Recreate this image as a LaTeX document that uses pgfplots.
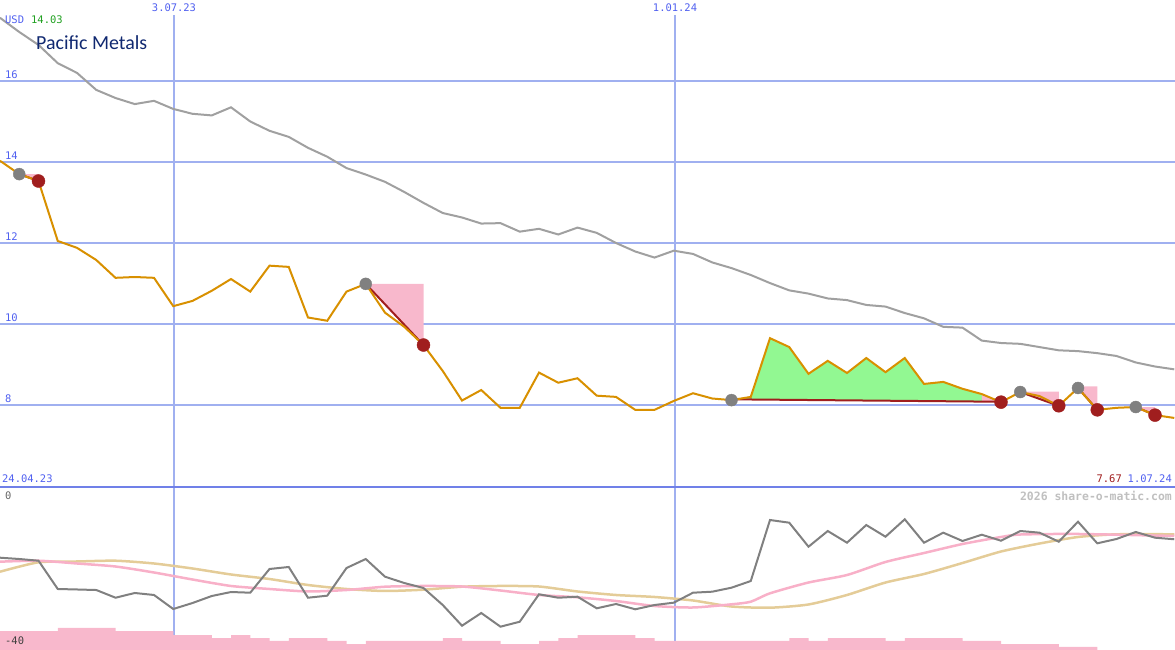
\documentclass[border=0pt]{standalone}
\usepackage{pgfplots}
\pgfplotsset{compat=1.18}
\usepackage{fontspec}
\setmainfont{DejaVu Sans Mono}
\newfontfamily\monofont{DejaVu Sans Mono}
\newfontfamily\titlefont{Carlito}
\definecolor{gridblue}{RGB}{160,176,240}
\definecolor{gridthin}{RGB}{168,178,224}
\definecolor{boundblue}{RGB}{112,128,232}
\definecolor{textblue}{RGB}{80,96,240}
\definecolor{priceorange}{RGB}{216,144,0}
\definecolor{longgray}{RGB}{160,160,160}
\definecolor{dotgray}{RGB}{128,128,128}
\definecolor{darkred}{RGB}{160,30,30}
\definecolor{pinkfill}{RGB}{248,184,204}
\definecolor{greenfill}{RGB}{146,248,146}
\definecolor{oscgray}{RGB}{128,128,128}
\definecolor{lowpink}{RGB}{248,176,200}
\definecolor{lowtan}{RGB}{228,204,152}
\definecolor{navy}{RGB}{16,40,112}
\definecolor{textgreen}{RGB}{32,160,32}
\definecolor{wmgray}{RGB}{192,192,192}

\pgfplotstableread{
i price
0 14.03
1 13.70
2 13.53
3 12.05
4 11.88
5 11.58
6 11.14
7 11.16
8 11.14
9 10.44
10 10.57
11 10.82
12 11.11
13 10.80
14 11.44
15 11.41
16 10.16
17 10.08
18 10.80
19 10.99
20 10.28
21 9.93
22 9.48
23 8.84
24 8.11
25 8.37
26 7.93
27 7.93
28 8.80
29 8.55
30 8.66
31 8.23
32 8.20
33 7.88
34 7.88
35 8.10
36 8.29
37 8.16
38 8.12
39 8.20
40 9.65
41 9.43
42 8.77
43 9.09
44 8.79
45 9.16
46 8.81
47 9.16
48 8.52
49 8.57
50 8.40
51 8.27
52 8.07
53 8.32
54 8.22
55 7.98
56 8.42
57 7.88
58 7.93
59 7.95
60 7.75
61 7.68
}\pricetab

\pgfplotstableread{
i ma
0 17.56
1 17.21
2 16.89
3 16.44
4 16.20
5 15.78
6 15.58
7 15.43
8 15.51
9 15.31
10 15.19
11 15.15
12 15.35
13 15.00
14 14.77
15 14.62
16 14.35
17 14.13
18 13.85
19 13.69
20 13.51
21 13.26
22 12.99
23 12.74
24 12.63
25 12.48
26 12.49
27 12.28
28 12.35
29 12.21
30 12.38
31 12.25
32 12.00
33 11.79
34 11.64
35 11.81
36 11.73
37 11.52
38 11.38
39 11.21
40 11.01
41 10.83
42 10.75
43 10.63
44 10.59
45 10.47
46 10.43
47 10.27
48 10.14
49 9.93
50 9.91
51 9.59
52 9.53
53 9.51
54 9.43
55 9.35
56 9.33
57 9.28
58 9.21
59 9.05
60 8.95
61 8.88
}\matab

\pgfplotstableread{
i osc
0 -17.35
1 -17.67
2 -18.09
3 -25.03
4 -25.15
5 -25.28
6 -27.17
7 -26.01
8 -26.50
9 -29.94
10 -28.47
11 -26.75
12 -25.77
13 -25.94
14 -20.12
15 -19.63
16 -27.17
17 -26.67
18 -19.88
19 -17.67
20 -22.01
21 -23.56
22 -24.79
23 -28.96
24 -34.04
25 -30.92
26 -34.28
27 -33.06
28 -26.33
29 -27.17
30 -26.92
31 -29.77
32 -28.71
33 -30.01
34 -28.96
35 -28.39
36 -25.94
37 -25.69
38 -24.71
39 -23.07
40 -8.10
41 -8.76
42 -14.65
43 -10.80
44 -13.67
45 -9.33
46 -12.20
47 -7.93
48 -13.67
49 -11.21
50 -13.25
51 -11.71
52 -13.18
53 -10.80
54 -11.21
55 -13.42
56 -8.52
57 -13.82
58 -12.76
59 -11.04
60 -12.44
61 -12.83
}\osctab

\pgfplotstableread{
i bar
0 -35.34
1 -35.34
2 -35.34
3 -34.60
4 -34.60
5 -34.60
6 -35.34
7 -35.34
8 -35.34
9 -36.32
10 -36.32
11 -37.06
12 -36.32
13 -37.06
14 -37.79
15 -37.06
16 -37.06
17 -37.79
18 -38.53
19 -37.79
20 -37.79
21 -37.79
22 -37.79
23 -37.06
24 -37.79
25 -37.79
26 -38.53
27 -38.53
28 -37.79
29 -37.06
30 -36.32
31 -36.32
32 -36.32
33 -37.06
34 -37.79
35 -37.79
36 -37.79
37 -37.79
38 -37.79
39 -37.79
40 -37.79
41 -37.06
42 -37.79
43 -37.06
44 -37.06
45 -37.06
46 -37.79
47 -37.06
48 -37.06
49 -37.06
50 -37.79
51 -37.79
52 -38.53
53 -38.53
54 -38.53
55 -39.26
56 -39.26
57 -40
58 -40
59 -40
60 -40
61 -40
}\bartab

\begin{document}
\begin{tikzpicture}
% ---------------- upper panel ----------------
\begin{axis}[
  at={(0bp,163bp)}, anchor=south west,
  width=1175bp, height=487bp, scale only axis,
  xmin=0, xmax=61.04, ymin=5.975, ymax=18,
  axis line style={draw=none},
  major tick length=0pt,
  xtick={9.04}, xticklabels={},
  ytick={8,10,12,14,16}, yticklabels={},
  extra x ticks={35.06}, extra x tick labels={},
  xmajorgrids, ymajorgrids,
  major grid style={line width=2bp, color=gridblue},
  extra x tick style={grid style={line width=1bp, color=gridthin}},
  clip=true,
]
% pink loss triangles
\addplot[fill=pinkfill, draw=none] coordinates {(1,13.70) (2,13.70) (2,13.53)} -- cycle;
\addplot[fill=pinkfill, draw=none] coordinates {(19,10.99) (22,10.99) (22,9.48)} -- cycle;
\addplot[fill=pinkfill, draw=none] coordinates {(53,8.33) (55,8.33) (55,7.98)} -- cycle;
\addplot[fill=pinkfill, draw=none] coordinates {(56,8.46) (57,8.46) (57,7.88)} -- cycle;
\addplot[fill=pinkfill, draw=none] coordinates {(59,7.95) (60,7.95) (60,7.75)} -- cycle;
% green gain area
\addplot[fill=greenfill, draw=none] coordinates {
 (38,8.14) (39,8.20) (40,9.65) (41,9.43) (42,8.77) (43,9.09) (44,8.79) (45,9.16)
 (46,8.81) (47,9.16) (48,8.52) (49,8.57) (50,8.40) (51,8.27) (51,8.084) (38,8.14)} -- cycle;
\addplot[fill=pinkfill, draw=none] coordinates {(51,8.27) (52,8.07) (51,8.084)} -- cycle;
% long moving average
\addplot[color=longgray, line width=2bp] table[x=i, y=ma] {\matab};
% signal dots
\addplot[only marks, mark=*, mark size=6bp, color=dotgray] coordinates {
 (1,13.70) (19,10.99) (38,8.12) (53,8.32) (56,8.42) (59,7.95)};
\addplot[only marks, mark=*, mark size=6.5bp, color=darkred] coordinates {
 (2,13.53) (22,9.48) (52,8.07) (55,7.98) (57,7.88) (60,7.75)};
% dark red trade lines
\addplot[color=darkred, line width=2bp] coordinates {(1,13.70) (2,13.53)};
\addplot[color=darkred, line width=2bp] coordinates {(19,10.99) (22,9.48)};
\addplot[color=darkred, line width=2bp] coordinates {(38,8.14) (52,8.08)};
\addplot[color=darkred, line width=2bp] coordinates {(53,8.32) (55,7.98)};
\addplot[color=darkred, line width=2bp] coordinates {(56,8.42) (57,7.88)};
\addplot[color=darkred, line width=2bp] coordinates {(59,7.95) (60,7.75)};
% price
\addplot[color=priceorange, line width=2bp] table[x=i, y=price] {\pricetab};
\end{axis}

% ---------------- lower panel ----------------
\begin{axis}[
  at={(0bp,0bp)}, anchor=south west,
  width=1175bp, height=163bp, scale only axis,
  xmin=0, xmax=61.04, ymin=-40, ymax=0,
  axis line style={draw=none},
  major tick length=0pt,
  xtick={9.04}, xticklabels={},
  ytick=\empty,
  extra x ticks={35.06}, extra x tick labels={},
  xmajorgrids,
  major grid style={line width=2bp, color=gridblue},
  extra x tick style={grid style={line width=1bp, color=gridthin}},
  clip=true,
]
\addplot[const plot, fill=pinkfill, draw=none] table[x=i, y=bar] {\bartab} -- (axis cs:61,-40) -- (axis cs:0,-40) -- cycle;
\addplot[color=lowtan, line width=2.5bp, smooth, tension=0.4] coordinates {
 (0,-20.79) (2,-18.48) (4,-18.28) (6,-18.09) (8,-18.77) (10,-20.00) (12,-21.47)
 (14,-22.58) (16,-24.05) (18,-25.03) (20,-25.52) (22,-25.20) (24,-24.47) (26,-24.29)
 (28,-24.42) (30,-25.64) (32,-26.50) (34,-26.99) (36,-27.85) (38,-29.33) (40,-29.62)
 (42,-28.83) (44,-26.50) (46,-23.44) (48,-21.35) (50,-18.65) (52,-15.83) (54,-13.87)
 (56,-12.27) (58,-11.61) (61,-11.61)};
\addplot[color=lowpink, line width=2.5bp, smooth, tension=0.4] coordinates {
 (0,-18.33) (2,-18.09) (4,-18.77) (6,-19.51) (8,-20.98) (10,-22.70) (12,-24.29)
 (14,-25.03) (16,-25.64) (18,-25.28) (20,-24.47) (22,-24.29) (24,-24.42) (26,-25.40)
 (28,-26.50) (30,-27.07) (32,-27.98) (34,-29.20) (36,-29.57) (38,-28.79) (39,-28.15)
 (40,-26.09) (42,-23.44) (44,-21.60) (46,-18.40) (48,-16.20) (50,-13.99) (52,-12.27)
 (53,-11.66) (56,-11.53) (61,-12.02)};
\addplot[color=oscgray, line width=2bp] table[x=i, y=osc] {\osctab};
\end{axis}

% panel boundary
\draw[boundblue, line width=2bp] (0bp,163bp) -- (1175bp,163bp);

% ---------------- labels ----------------
\begin{scope}[every node/.style={inner sep=0pt, font=\monofont\fontsize{10.5}{12}\selectfont}]
\node[anchor=west, text=textblue] at (5bp,630bp) {USD};
\node[anchor=west, text=textgreen] at (31bp,630bp) {14.03};
\node[anchor=west, text=textblue] at (5bp,575bp) {16};
\node[anchor=west, text=textblue] at (5bp,494bp) {14};
\node[anchor=west, text=textblue] at (5bp,413bp) {12};
\node[anchor=west, text=textblue] at (5bp,332bp) {10};
\node[anchor=west, text=textblue] at (5bp,251bp) {8};
\node[anchor=north, fill=white, minimum height=15bp, inner xsep=2bp, text=textblue] at (174bp,650bp) {3.07.23};
\node[anchor=north, fill=white, minimum height=15bp, inner xsep=2bp, text=textblue] at (675bp,650bp) {1.01.24};
\node[anchor=west, text=textblue] at (2bp,171bp) {24.04.23};
\node[anchor=east, text=textblue] at (1172bp,171bp) {1.07.24};
\node[anchor=east, text=darkred] at (1122bp,171bp) {7.67};
\node[anchor=east, text=wmgray, font=\monofont\bfseries\fontsize{11.5}{13}\selectfont] at (1172bp,154bp) {2026 share-o-matic.com};
\node[anchor=west, text=black!60] at (5bp,154bp) {0};
\node[anchor=west, text=black!75] at (5bp,9bp) {-40};
\end{scope}
\node[anchor=west, inner sep=0pt, text=navy, font=\titlefont\fontsize{20}{24}\selectfont] at (36bp,607bp) {Pacific Metals};

\pgfresetboundingbox
\useasboundingbox (0bp,0bp) rectangle (1175bp,650bp);
\end{tikzpicture}
\end{document}
